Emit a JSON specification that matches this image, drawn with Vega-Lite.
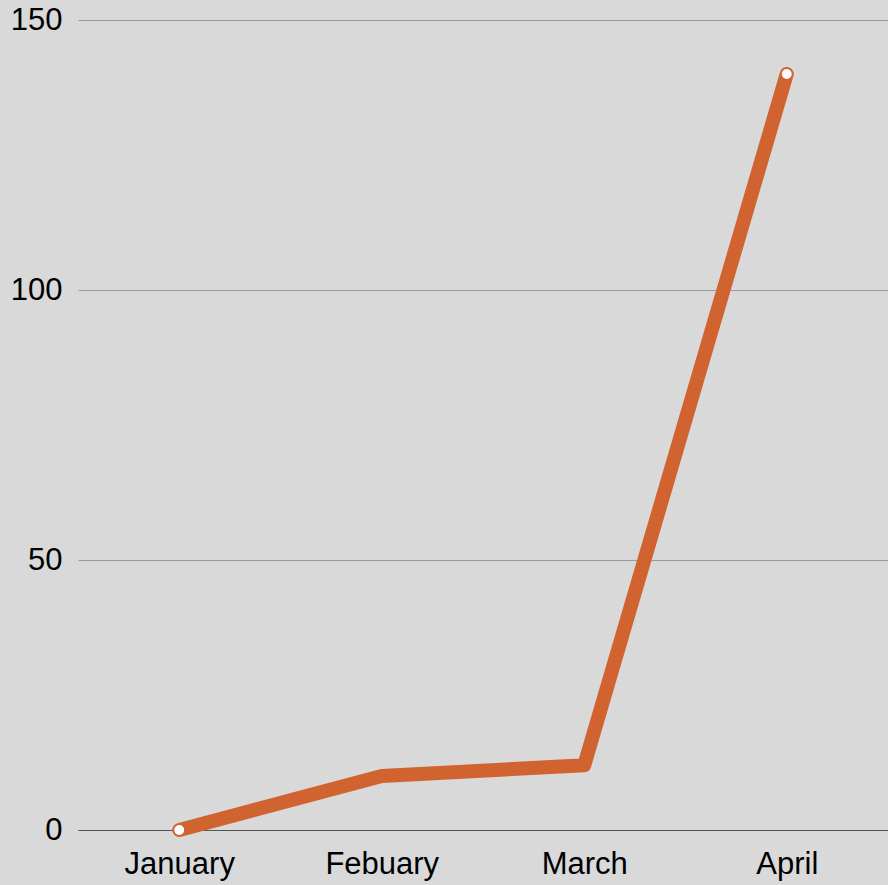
{
  "$schema": "https://vega.github.io/schema/vega-lite/v6.json",
  "width": 810,
  "height": 810,
  "autosize": {"type": "none"},
  "padding": {"left": 78, "top": 20, "right": 0, "bottom": 55},
  "background": "#d9d9d9",
  "config": {
    "view": {"stroke": null},
    "font": "Liberation Sans"
  },
  "data": {
    "values": [
      {"month": "January", "value": 0},
      {"month": "Febuary", "value": 10},
      {"month": "March", "value": 12},
      {"month": "April", "value": 140}
    ]
  },
  "encoding": {
    "x": {
      "field": "month",
      "type": "ordinal",
      "sort": null,
      "scale": {"type": "point", "padding": 0.5},
      "axis": {
        "title": null,
        "labelAngle": 0,
        "labelFontSize": 31,
        "labelColor": "#000000",
        "labelPadding": 19,
        "ticks": false,
        "domain": true,
        "domainColor": "#555555",
        "domainWidth": 1,
        "grid": false
      }
    },
    "y": {
      "field": "value",
      "type": "quantitative",
      "scale": {"domain": [0, 150], "nice": false},
      "axis": {
        "title": null,
        "values": [0, 50, 100, 150],
        "labelFontSize": 31,
        "labelColor": "#000000",
        "labelPadding": 16,
        "ticks": false,
        "domain": false,
        "grid": true,
        "gridColor": "#9a9a9a",
        "gridWidth": 1
      }
    }
  },
  "layer": [
    {
      "mark": {"type": "line", "color": "#d06330", "strokeWidth": 14, "strokeCap": "round", "strokeJoin": "round"}
    },
    {
      "transform": [{"filter": "datum.month === 'January' || datum.month === 'April'"}],
      "mark": {"type": "point", "filled": true, "fill": "#ffffff", "stroke": "#d06330", "strokeWidth": 1.5, "size": 130, "opacity": 1}
    }
  ]
}
